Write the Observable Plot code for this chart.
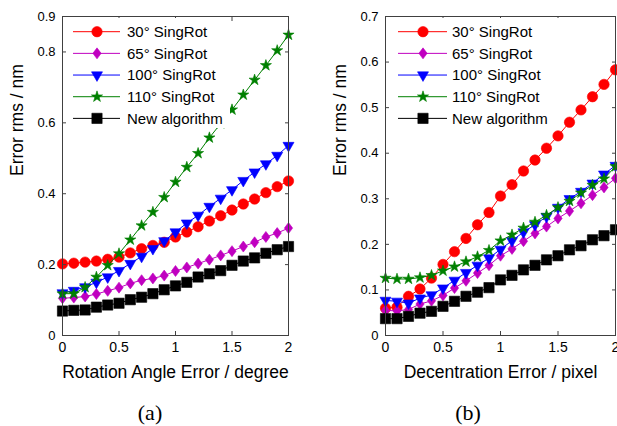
<!DOCTYPE html>
<html><head><meta charset="utf-8">
<script src="https://cdn.jsdelivr.net/npm/d3@7"></script>
<script src="https://cdn.jsdelivr.net/npm/@observablehq/plot@0.6"></script>
<style>
body{margin:0;background:#fff;}
#fig{position:relative;width:617px;height:426px;overflow:hidden;background:#fff;font-family:"Liberation Sans",Arial,sans-serif;}
.panel{position:absolute;top:0;}
.legend{position:absolute;background:#fff;}
.cap{position:absolute;font-family:"Liberation Serif","Times New Roman",serif;font-size:22px;line-height:22px;color:#000;transform:translateX(-50%);white-space:nowrap;}
</style></head><body><div id="fig"></div>
<script>
// ---- data ----
const xs = [0,0.1,0.2,0.3,0.4,0.5,0.6,0.7,0.8,0.9,1.0,1.1,1.2,1.3,1.4,1.5,1.6,1.7,1.8,1.9,2.0];
const seriesNames = ["30° SingRot","65° SingRot","100° SingRot","110° SingRot","New algorithm"];

// (a) Rotation angle error
const rotSing30  = [0.202,0.204,0.207,0.210,0.215,0.221,0.233,0.245,0.254,0.263,0.278,0.292,0.307,0.323,0.338,0.354,0.371,0.385,0.403,0.420,0.436];
const rotSing65  = [0.105,0.107,0.110,0.117,0.126,0.135,0.147,0.156,0.161,0.169,0.182,0.192,0.203,0.214,0.226,0.238,0.251,0.263,0.278,0.289,0.303];
const rotSing100 = [0.120,0.127,0.137,0.150,0.165,0.183,0.203,0.223,0.245,0.267,0.292,0.317,0.339,0.364,0.387,0.411,0.437,0.461,0.484,0.508,0.536];
const rotSing110 = [0.118,0.118,0.136,0.165,0.198,0.231,0.270,0.310,0.348,0.390,0.433,0.475,0.514,0.558,0.598,0.637,0.679,0.721,0.762,0.804,0.848];
const rotNew     = [0.069,0.071,0.072,0.080,0.086,0.091,0.101,0.108,0.118,0.129,0.140,0.150,0.165,0.174,0.183,0.198,0.210,0.219,0.232,0.242,0.251];

// (b) Decentration error
const decSing30  = [0.060,0.062,0.086,0.102,0.126,0.156,0.184,0.213,0.243,0.270,0.306,0.331,0.361,0.385,0.411,0.438,0.468,0.495,0.524,0.551,0.583];
const decSing65  = [0.055,0.054,0.057,0.069,0.076,0.088,0.104,0.120,0.137,0.154,0.175,0.190,0.207,0.224,0.239,0.257,0.273,0.290,0.308,0.325,0.345];
const decSing100 = [0.077,0.075,0.071,0.082,0.089,0.104,0.121,0.138,0.154,0.170,0.189,0.208,0.227,0.243,0.261,0.281,0.300,0.316,0.334,0.354,0.373];
const decSing110 = [0.126,0.124,0.124,0.127,0.132,0.142,0.151,0.162,0.173,0.187,0.208,0.221,0.236,0.249,0.264,0.281,0.295,0.313,0.330,0.344,0.371];
const decNew     = [0.037,0.037,0.042,0.049,0.053,0.064,0.075,0.086,0.095,0.105,0.122,0.132,0.144,0.154,0.166,0.175,0.188,0.197,0.210,0.219,0.232];

const xTicks  = [0,0.5,1,1.5,2];
const yTicksA = [0,0.2,0.4,0.6,0.8,0.9];
const yTicksB = [0,0.1,0.2,0.3,0.4,0.5,0.6,0.7];
const xLabelA = "Rotation Angle Error / degree";
const xLabelB = "Decentration Error / pixel";
const yLabel  = "Error rms / nm";
const captions = ["(a)","(b)"];

// ---- styles ----
const diamondSym = {draw(ctx, size){ const h = Math.sqrt(size/1.5), w = 0.75*h; ctx.moveTo(0,-h); ctx.lineTo(w,0); ctx.lineTo(0,h); ctx.lineTo(-w,0); ctx.closePath(); }};
const styles = [
  {color:"#ff0000", symbol:d3.symbolCircle, r:5.2, rotate:0},
  {color:"#c000c0", symbol:diamondSym, r:3.8, rotate:0},
  {color:"#0000ff", symbol:d3.symbolTriangle, r:4.1, rotate:180},
  {color:"#008000", symbol:d3.symbolStar, r:3.5, rotate:0},
  {color:"#000000", symbol:d3.symbolSquare, r:5.8, rotate:0}
];
const FONT = '"Liberation Sans", Arial, sans-serif';
const fmt = d => String(d);
const AX = "#404040";

function seriesMarks(list){
  const marks = [];
  list.forEach((vals, i) => {
    const rows = xs.map((x, j) => ({x, y: vals[j]}));
    const s = styles[i];
    marks.push(Plot.line(rows, {x:"x", y:"y", stroke:s.color, strokeWidth:1}));
    marks.push(Plot.dot(rows, {x:"x", y:"y", symbol:s.symbol, r:s.r, fill:s.color, stroke:s.color, strokeWidth:0.6, rotate:s.rotate}));
  });
  return marks;
}

function panel(list, yDomain, yTicks, xLabel, opts){
  return Plot.plot({
    width: opts.width, height: 390,
    marginLeft: opts.ml, marginRight: opts.mr, marginTop: 16, marginBottom: 55,
    x: {domain:[0,2]},
    y: {domain:yDomain},
    style: {fontFamily: FONT, fontSize:"13px", color:"#000", background:"transparent", overflow:"visible"},
    marks: [
      ...seriesMarks(list),
      Plot.frame({stroke:AX, strokeWidth:1}),
      Plot.axisY({ticks:yTicks, tickSize:-4, tickPadding:11, tickFormat:fmt, label:null, stroke:AX, fill:"#000", fontSize:13}),
      Plot.axisY({anchor:"right", ticks:yTicks, tickSize:-4, tickFormat:()=>"", label:null, stroke:AX}),
      Plot.axisX({ticks:xTicks, tickSize:-4, tickPadding:11, tickFormat:fmt, label:null, stroke:AX, fill:"#000", fontSize:14}),
      Plot.axisX({anchor:"top", ticks:xTicks, tickSize:-4, tickFormat:()=>"", label:null, stroke:AX}),
      Plot.text([xLabel], {text:d=>d, frameAnchor:"bottom", dy:37, lineAnchor:"middle", fontSize:17.5, fill:"#000"}),
      Plot.text([yLabel], {text:d=>d, frameAnchor:"left", dx:-45, rotate:-90, lineAnchor:"middle", fontSize:17.5, fill:"#000"})
    ]
  });
}

function legend(left, top, width, lo){
  const rowH = 21.67, h = 110;
  const div = document.createElement("div");
  div.className = "legend";
  div.style.left = left + "px"; div.style.top = top + "px";
  div.style.width = width + "px"; div.style.height = h + "px";
  const svg = d3.select(div).append("svg").attr("width", width).attr("height", h);
  seriesNames.forEach((name, i) => {
    const s = styles[i], cy = 13.7 + i*rowH;
    svg.append("line").attr("x1", lo.l1).attr("x2", lo.l2).attr("y1", cy).attr("y2", cy).attr("stroke", s.color).attr("stroke-width", 1);
    svg.append("path").attr("d", d3.symbol(s.symbol, Math.PI*s.r*s.r)())
      .attr("transform", `translate(${lo.m},${cy}) rotate(${s.rotate})`)
      .attr("fill", s.color).attr("stroke", s.color).attr("stroke-width", 0.6);
    svg.append("text").attr("x", lo.t).attr("y", cy).attr("dy", "0.36em")
      .attr("font-family", FONT).attr("font-size", 15).attr("fill", "#000").text(name);
  });
  return div;
}

const fig = document.getElementById("fig");
const pA = panel([rotSing30, rotSing65, rotSing100, rotSing110, rotNew], [0,0.9], yTicksA, xLabelA, {width:308, ml:62, mr:20});
const divA = document.createElement("div"); divA.className = "panel"; divA.style.left = "0px"; divA.appendChild(pA); fig.appendChild(divA);
const pB = panel([decSing30, decSing65, decSing100, decSing110, decNew], [0,0.7], yTicksB, xLabelB, {width:309, ml:77, mr:2});
const divB = document.createElement("div"); divB.className = "panel"; divB.style.left = "308px"; divB.appendChild(pB); fig.appendChild(divB);

fig.appendChild(legend(66, 18, 164, {l1:7, l2:54, m:31, t:61}));
fig.appendChild(legend(389, 18, 170, {l1:9, l2:58, m:34, t:63}));

[[captions[0], 150], [captions[1], 468]].forEach(([t, cx]) => {
  const c = document.createElement("div"); c.className = "cap";
  c.style.left = cx + "px"; c.style.top = "402px"; c.textContent = t; fig.appendChild(c);
});
</script></body></html>
